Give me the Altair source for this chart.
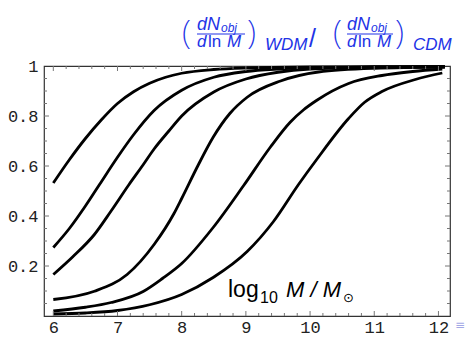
import altair as alt
import pandas as pd

# ---- data ----
c1_x = [6.0, 6.25, 6.5, 6.75, 7.0, 7.25, 7.5, 7.75, 8.0, 8.5, 9.0, 10.0, 11.0, 12.1]
c1_y = [0.532, 0.625, 0.71, 0.785, 0.85, 0.897, 0.931, 0.955, 0.971, 0.986, 0.992, 0.996, 0.997, 0.997]
c2_x = [6.0, 6.25, 6.5, 6.72, 7.0, 7.25, 7.57, 8.0, 8.5, 9.0, 9.5, 10.0, 11.0, 12.1]
c2_y = [0.274, 0.35, 0.44, 0.526, 0.635, 0.725, 0.822, 0.903, 0.955, 0.978, 0.988, 0.993, 0.996, 0.997]
c3_x = [6.0, 6.3, 6.64, 6.9, 7.18, 7.4, 7.57, 7.8, 8.0, 8.5, 9.0, 9.5, 10.0, 11.0, 12.1]
c3_y = [0.166, 0.236, 0.326, 0.42, 0.526, 0.605, 0.668, 0.74, 0.80, 0.896, 0.948, 0.975, 0.988, 0.995, 0.997]
c4_x = [6.0, 6.64, 7.15, 7.57, 7.88, 8.0, 8.25, 8.49, 8.75, 9.02, 9.54, 10.13, 11.0, 12.1]
c4_y = [0.066, 0.099, 0.166, 0.286, 0.41, 0.47, 0.60, 0.715, 0.81, 0.875, 0.94, 0.976, 0.991, 0.996]
c5_x = [6.0, 6.5, 6.9, 7.4, 7.7, 8.0, 8.49, 8.96, 9.38, 9.69, 9.9, 10.1, 10.6, 11.12, 11.6, 12.06]
c5_y = [0.02, 0.035, 0.054, 0.098, 0.15, 0.21, 0.354, 0.52, 0.675, 0.775, 0.825, 0.862, 0.93, 0.962, 0.978, 0.988]
c6_x = [6.0, 6.5, 7.0, 7.5, 8.0, 8.49, 9.02, 9.43, 9.82, 10.1, 10.6, 10.85, 11.12, 11.64, 12.06]
c6_y = [0.008, 0.012, 0.022, 0.045, 0.086, 0.154, 0.258, 0.378, 0.526, 0.625, 0.79, 0.855, 0.898, 0.946, 0.972]

x_major = [6, 7, 8, 9, 10, 11, 12]
y_labels = [0.2, 0.4, 0.6, 0.8, 1.0]
x_minor = [round(6 + 0.2 * i, 1) for i in range(31) if i % 5]
y_major = [0.2, 0.4, 0.6, 0.8]
y_minor = [round(0.05 * i, 2) for i in range(1, 20) if i % 4]

series = [(c1_x, c1_y), (c2_x, c2_y), (c3_x, c3_y), (c4_x, c4_y), (c5_x, c5_y), (c6_x, c6_y)]
rows = []
for k, (xs_, ys_) in enumerate(series):
    for a, b in zip(xs_, ys_):
        rows.append({"s": f"c{k+1}", "x": a, "y": b})
df = pd.DataFrame(rows)

W, H = 406, 250
BLUE = "#2233e6"
xs = alt.Scale(domain=[5.855, 12.18], nice=False, zero=False)
ys = alt.Scale(domain=[0, 1], nice=False, zero=False)

lines = alt.Chart(df).mark_line(color="black", strokeWidth=2.8, interpolate="monotone").encode(
    x=alt.X("x:Q", scale=xs, axis=alt.Axis(values=x_major, format="d", title=None, labelPadding=3)),
    y=alt.Y("y:Q", scale=ys, axis=alt.Axis(values=y_labels, format=".1~f", title=None, labelPadding=6)),
    detail="s:N",
)


def vticks(vals, y0, y1):
    return alt.Chart(pd.DataFrame({"v": vals})).mark_rule(color="#777", strokeWidth=1).encode(
        x=alt.X("v:Q", scale=xs), y=alt.value(y0), y2=alt.value(y1))


def hticks(vals, x0, x1):
    return alt.Chart(pd.DataFrame({"v": vals})).mark_rule(color="#777", strokeWidth=1).encode(
        y=alt.Y("v:Q", scale=ys), x=alt.value(x0), x2=alt.value(x1))


ticks = [
    vticks(x_major, H, H - 5), vticks(x_minor, H, H - 3),
    vticks(x_major, 0, 5), vticks(x_minor, 0, 3),
    hticks(y_major, 0, 5), hticks(y_minor, 0, 3),
    hticks(y_major, W, W - 5), hticks(y_minor, W, W - 3),
]


def txt(s, x, y, size, italic=False, color=BLUE, font="Liberation Sans", weight="normal"):
    return alt.Chart(pd.DataFrame({"t": [s]})).mark_text(
        align="left", baseline="alphabetic", fontSize=size,
        fontStyle="italic" if italic else "normal", font=font, color=color, fontWeight=weight,
    ).encode(x=alt.value(x), y=alt.value(y), text="t:N")


def bar(x0, x1, y):
    return alt.Chart(pd.DataFrame({"a": [0]})).mark_rule(color=BLUE, strokeWidth=1.2).encode(
        x=alt.value(x0), x2=alt.value(x1), y=alt.value(y))


PF = "Noto Sans"
ann = [
    # title: (dN_obj / d ln M)_WDM / (dN_obj / d ln M)_CDM
    txt("(", 138, -22, 34, font=PF, weight=200),
    txt("dN", 153, -36, 18, True), txt("obj", 177, -34, 12, True),
    bar(153, 201, -32),
    txt("d", 153, -19, 17, True), txt("ln", 164, -19, 17), txt("M", 183, -19, 17, True),
    txt(")", 203, -22, 34, font=PF, weight=200),
    txt("WDM", 221, -16, 17, True),
    txt("/", 265, -19, 25),
    txt("(", 289, -22, 34, font=PF, weight=200),
    txt("dN", 303, -36, 18, True), txt("obj", 327, -34, 12, True),
    bar(303, 349, -32),
    txt("d", 303, -19, 17, True), txt("ln", 314, -19, 17), txt("M", 333, -19, 17, True),
    txt(")", 351, -22, 34, font=PF, weight=200),
    txt("CDM", 369, -16, 17, True),
    # axis label inside the plot
    txt("log", 184, 231, 23, color="black"),
    txt("10", 216, 237, 16, color="black"),
    txt("M / M", 242, 231, 22, True, color="black"),
    txt("⊙", 299, 236, 13, color="black", font="DejaVu Sans"),
    txt("≡", 411, 263, 12, color="#a3a8e6", font="DejaVu Sans"),
]

chart = alt.layer(lines, *ticks, *ann).properties(
    width=W, height=H,
    autosize=alt.AutoSizeParams(type="none"),
    padding={"left": 44, "top": 66, "right": 19, "bottom": 21},
    background="white",
).configure_view(stroke="#333", strokeWidth=1.2).configure_axis(
    grid=False, domain=False, ticks=False, tickSize=0,
    labelFont="Liberation Mono", labelFontSize=17, labelColor="#222",
)

chart.save("out.html", embed_options={"renderer": "svg", "actions": False})
